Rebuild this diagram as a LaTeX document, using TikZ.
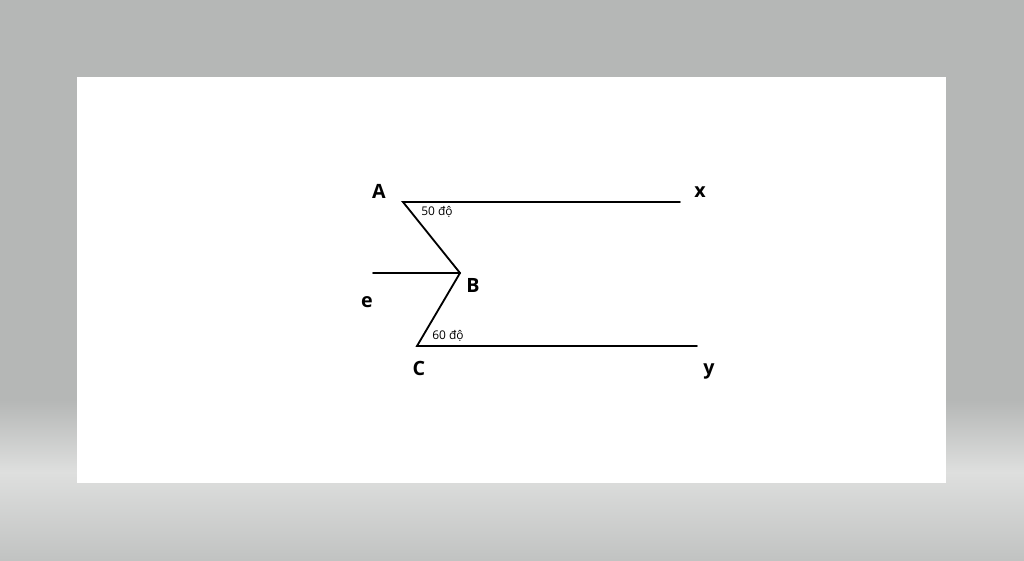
\documentclass[tikz,border=0pt]{standalone}
\usepackage{fontspec}
\setmainfont{Open Sans}
\usepackage{xcolor}
\usetikzlibrary{calc}

\definecolor{backgray}{RGB}{181,183,182}
\definecolor{lightgray}{RGB}{222,223,222}
\definecolor{lowgray}{RGB}{193,195,194}

\begin{document}
\begin{tikzpicture}[x=0.25mm,y=-0.25mm]

\tikzset{
    seg/.style = {
    line width=1.3pt,
    line cap=round
    }
}

\tikzstyle{letter}=[font=\bfseries\fontsize{14}{14}\selectfont, inner sep=0pt]
\tikzstyle{angle}=[font=\fontsize{8.5}{8.5}\selectfont, inner sep=0pt]

% background
\useasboundingbox (0,0) rectangle (1024,560);
\fill[backgray] (0,0) rectangle (1024,400);
\shade[top color=backgray, bottom color=lightgray] (0,400) rectangle (1024,472);
\shade[top color=lightgray, bottom color=lowgray] (0,472) rectangle (1024,560);
\fill[white] (77,77) rectangle (946,483);

\coordinate (A) at (403,202);
\coordinate (B) at (460,273);
\coordinate (C) at (417,346);
\coordinate (x-end) at (680,202);
\coordinate (y-end) at (697,346);
\coordinate (e-end) at (373,273);

\draw[seg] (x-end)--(A)--(B)--(C)--(y-end);
\draw[seg] (B)--(e-end);

\node (A-lbl) [letter] at (379,191) {A};
\node (x-lbl) [letter] at (700,192) {x};
\node (B-lbl) [letter] at (473,285) {B};
\node (e-lbl) [letter] at (367,302) {e};
\node (C-lbl) [letter] at (419,368) {C};
\node (y-lbl) [letter] at (709,371) {y};

\node (A-ang) [angle] at (437,212) {50 độ};
\node (C-ang) [angle] at (448,336) {60 độ};

\end{tikzpicture}
\end{document}
